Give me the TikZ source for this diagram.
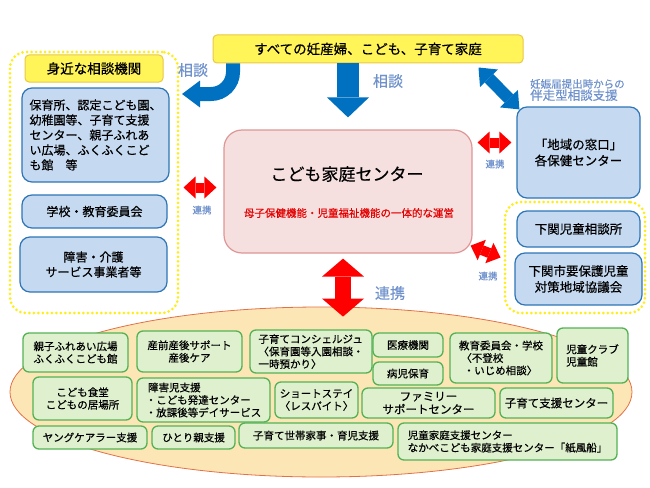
\documentclass[tikz,border=0pt]{standalone}
\usepackage{fontspec}
\setmainfont{Noto Sans CJK JP}[FakeBold=0.5]
\usepackage{tikz}
\usetikzlibrary{arrows.meta}
\usetikzlibrary{shapes.geometric}

\definecolor{lemon}{RGB}{255,244,88}
\definecolor{gold}{RGB}{232,200,70}
\definecolor{zoneyellow}{RGB}{255,238,20}
\definecolor{paleblue}{RGB}{197,217,241}
\definecolor{boxblue}{RGB}{46,117,182}
\definecolor{palepink}{RGB}{246,223,223}
\definecolor{rosy}{RGB}{222,150,150}
\definecolor{palegreen}{RGB}{222,240,206}
\definecolor{leafgreen}{RGB}{84,178,84}
\definecolor{ovalfill}{RGB}{253,230,182}
\definecolor{ovaldraw}{RGB}{228,112,70}
\definecolor{arrowblue}{RGB}{0,112,192}
\definecolor{labelblue}{RGB}{112,146,204}
\definecolor{linkred}{RGB}{255,0,0}

\newcommand\setfs[2]{\fontsize{#1}{#2}\selectfont}

\begin{document}
\begin{tikzpicture}[x=1pt,y=-1pt,
    yellowbox/.style={draw=gold,fill=lemon,line width=1pt,rounded corners=4pt,inner sep=0pt},
    bluebox/.style={draw=boxblue,fill=paleblue,line width=1.2pt,rounded corners=10pt,inner sep=0pt,align=center,font=\setfs{12}{15}},
    greenbox/.style={draw=leafgreen,fill=palegreen,line width=1.3pt,rounded corners=6pt,inner sep=0pt,align=center,font=\setfs{10.5}{12.5}},
    zone/.style={draw=zoneyellow,line width=3pt,line cap=round,dash pattern=on 0pt off 4.5pt,rounded corners=16pt,inner sep=0pt},
    link/.style={text=labelblue,inner sep=0pt}]
  \useasboundingbox (0,0) rectangle (650,487);

  \node[zone,minimum width=168pt,minimum height=261pt] (leftzone) at (94,182.5) {};
  \node[zone,minimum width=140pt,minimum height=111pt] (rightzone) at (575,257.5) {};
  \node[ellipse,draw=ovaldraw,fill=ovalfill,line width=0.8pt,inner sep=0pt,
        minimum width=622pt,minimum height=170pt] (network) at (321,392) {};

  \node[yellowbox,minimum width=310pt,minimum height=28pt,font=\setfs{13.5}{16}] (all) at (368,49) {すべての妊産婦、こども、子育て家庭};
  \node[yellowbox,minimum width=138pt,minimum height=27pt,font=\setfs{13.5}{16}] (nearby) at (94,68.5) {身近な相談機関};

  \node[bluebox,minimum width=147pt,minimum height=94pt,align=left] (daycare) at (95.5,135)
    {保育所、認定こども園、\\幼稚園等、子育て支援\\センター、親子ふれあ\\い広場、ふくふくこど\\も館　等};
  \node[bluebox,minimum width=145pt,minimum height=33pt] (school) at (94.5,211.5) {学校・教育委員会};
  \node[bluebox,minimum width=147pt,minimum height=55pt] (care) at (93.5,264.5) {障害・介護\\サービス事業者等};
  \node[bluebox,minimum width=123pt,minimum height=91pt,font=\setfs{12.5}{16}] (window) at (578.5,152.5) {「地域の窓口」\\各保健センター};
  \node[bluebox,minimum width=123pt,minimum height=36pt,font=\setfs{12.5}{16}] (consult) at (578.5,229) {下関児童相談所};
  \node[bluebox,minimum width=127pt,minimum height=52pt,font=\setfs{12.5}{16}] (council) at (578.5,279) {下関市要保護児童\\対策地域協議会};

  \node[draw=rosy,fill=palepink,line width=1.2pt,rounded corners=18pt,minimum width=248pt,minimum height=123pt] (centre) at (348,191.5) {};
  \node[font=\setfs{17}{20}] (centretitle) at (347,174) {こども家庭センター};
  \node[font=\setfs{10.5}{12},text=linkred!90!black] (centresub) at (349,213) {母子保健機能・児童福祉機能の一体的な運営};

  \node[greenbox,minimum width=105pt,minimum height=39pt] (plaza) at (75.5,352.5) {親子ふれあい広場\\ふくふくこども館};
  \node[greenbox,minimum width=105pt,minimum height=41pt] (birth) at (189.5,351.5) {産前産後サポート\\産後ケア};
  \node[greenbox,minimum width=122pt,minimum height=43pt,align=left] (concierge) at (311,351.5) {子育てコンシェルジュ\\〈保育園等入園相談・\\一時預かり〉};
  \node[greenbox,minimum width=70pt,minimum height=24pt] (medical) at (408,345) {医療機関};
  \node[greenbox,minimum width=70pt,minimum height=23pt] (sickcare) at (408,373.5) {病児保育};
  \node[greenbox,minimum width=102pt,minimum height=50pt,align=left] (board) at (501,358) {教育委員会・学校\\\ 〈不登校\\\ \ ・いじめ相談〉};
  \node[greenbox,minimum width=71pt,minimum height=55pt,align=left] (club) at (592.5,355.5) {児童クラブ\\児童館};
  \node[greenbox,minimum width=99pt,minimum height=43pt] (diner) at (82.5,398.5) {こども食堂\\こどもの居場所};
  \node[greenbox,minimum width=133pt,minimum height=44pt,align=left] (disabled) at (203.5,400) {\ 障害児支援\\・こども発達センター\\・放課後等デイサービス};
  \node[greenbox,minimum width=83pt,minimum height=36pt] (shortstay) at (316.5,400) {ショートステイ\\〈レスパイト〉};
  \node[greenbox,minimum width=133pt,minimum height=30pt,font=\setfs{11.5}{13}] (family) at (428.5,403) {ファミリー\\サポートセンター};
  \node[greenbox,minimum width=113pt,minimum height=30pt,font=\setfs{11.5}{13}] (support) at (556.5,403) {子育て支援センター};
  \node[greenbox,minimum width=114pt,minimum height=23pt] (young) at (90,437.5) {ヤングケアラー支援};
  \node[greenbox,minimum width=83pt,minimum height=23pt] (single) at (193.5,437.5) {ひとり親支援};
  \node[greenbox,minimum width=154pt,minimum height=25pt] (chores) at (316,435.5) {子育て世帯家事・育児支援};
  \node[greenbox,minimum width=219pt,minimum height=37pt,align=left] (homecentre) at (507.5,441.5) {児童家庭支援センター\\なかべこども家庭支援センター「紙風船」};

  \coordinate (bendtip) at (182,94);
  \draw[arrowblue,line width=14pt,rounded corners=22pt,-{Triangle[width=27pt,length=18pt,line width=0pt]}]
    ([xshift=-135pt]all.south) |- (bendtip);
  \draw[arrowblue,line width=22pt,shorten >=12pt,-{Triangle[width=42pt,length=20pt,line width=0pt]}]
    (all.south -| centre.north) -- (centre.north);
  \draw[arrowblue,line width=12pt,{Triangle[width=25pt,length=15pt,line width=0pt]}-{Triangle[width=25pt,length=15pt,line width=0pt]}]
    ([xshift=-45pt,yshift=-4pt]all.south east) -- ([xshift=3pt,yshift=-3pt]window.north west);

  \coordinate (leftlink) at ([yshift=-5pt]leftzone.east);
  \coordinate (rightlink) at ([yshift=10pt]window.west);
  \coordinate (downlink) at ([xshift=-5pt]centre.south);
  \draw[linkred,line width=10pt,shorten <=4pt,shorten >=7pt,{Triangle[width=22pt,length=12pt,line width=0pt]}-{Triangle[width=22pt,length=12pt,line width=0pt]}]
    (leftlink) -- (leftlink -| centre.west);
  \draw[linkred,line width=10pt,shorten <=5pt,shorten >=5pt,{Triangle[width=22pt,length=12pt,line width=0pt]}-{Triangle[width=22pt,length=12pt,line width=0pt]}]
    (rightlink -| centre.east) -- (rightlink);
  \draw[linkred,line width=10pt,{Triangle[width=22pt,length=12pt,line width=0pt]}-{Triangle[width=22pt,length=12pt,line width=0pt]}]
    ([xshift=-2pt,yshift=8pt]centre.south east) -- ([xshift=-3pt]rightzone.west);
  \draw[linkred,line width=16pt,shorten <=5pt,shorten >=-10pt,{Triangle[width=42pt,length=18pt,line width=0pt]}-{Triangle[width=42pt,length=18pt,line width=0pt]}]
    (downlink) -- (downlink |- network.north);

  \node[link,font=\setfs{15}{18}] (asknear) at (193,70) {相談};
  \node[link,font=\setfs{15}{18}] (askcentre) at (388,81) {相談};
  \node[link,align=left,anchor=west] (escort) at (530,90) {{\setfs{10.5}{14}妊娠届提出時からの}\\{\setfs{12.5}{15}伴走型相談支援}};
  \node[link,font=\setfs{9.5}{11}] (linkleft) at (202,210) {連携};
  \node[link,font=\setfs{9.5}{11}] (linkright) at (495,164) {連携};
  \node[link,font=\setfs{9.5}{11}] (linkdiag) at (488,276) {連携};
  \node[link,font=\setfs{15}{18}] (linkdown) at (390,293) {連携};
\end{tikzpicture}
\end{document}
